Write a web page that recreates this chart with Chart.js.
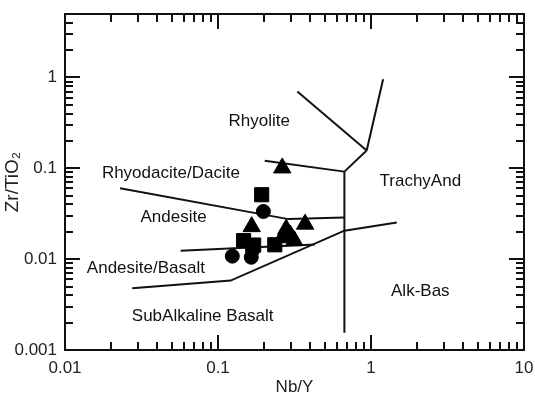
<!DOCTYPE html>
<html><head><meta charset="utf-8">
<script src="https://cdn.jsdelivr.net/npm/chart.js@4.4.0/dist/chart.umd.min.js"></script>
<style>html,body{margin:0;padding:0;background:#fff}#wrap{width:535px;height:395px;position:relative}</style>
</head><body><div id="wrap"><canvas id="c"></canvas></div>
<script>
// ---- axis ticks ----
const xTicks = [0.01, 0.1, 1, 10];
const xTickLabels = ['0.01', '0.1', '1', '10'];
const yTicks = [0.001, 0.01, 0.1, 1];
const yTickLabels = ['0.001', '0.01', '0.1', '1'];
const xMin = 0.01, xMax = 10, yMin = 0.001, yMax = 5;

// ---- samples ----
const squaresX = [0.193, 0.147, 0.171, 0.235];
const squaresY = [0.0512, 0.0160, 0.0143, 0.0144];
const circlesX = [0.198, 0.124, 0.165, 0.168];
const circlesY = [0.0335, 0.0108, 0.0105, 0.0125];
const trianglesX = [0.263, 0.166, 0.371, 0.279, 0.297, 0.315, 0.263];
const trianglesY = [0.101, 0.0228, 0.0243, 0.0214, 0.0184, 0.0160, 0.0172];

// ---- field boundaries ----
const comenditeX = [0.33, 0.937];      const comenditeY = [0.70, 0.157];
const pantelleriteX = [0.937, 1.20];   const pantelleriteY = [0.157, 0.955];
const junctionX = [0.937, 0.67];       const junctionY = [0.157, 0.092];
const verticalX = [0.67, 0.67];        const verticalY = [0.092, 0.00155];
const rhyoliteX = [0.202, 0.67];       const rhyoliteY = [0.121, 0.092];
const rhyodaciteX = [0.0229, 0.288, 0.67]; const rhyodaciteY = [0.0605, 0.0276, 0.0288];
const andBasX = [0.057, 0.43];         const andBasY = [0.0124, 0.0145];
const subAlkX = [0.0275, 0.121, 0.67, 1.475]; const subAlkY = [0.00477, 0.00581, 0.0206, 0.0254];

// ---- field names ----
const fieldNames = ['Rhyolite', 'Rhyodacite/Dacite', 'Andesite', 'Andesite/Basalt', 'SubAlkaline Basalt', 'TrachyAnd', 'Alk-Bas'];
const fieldX = [0.186, 0.0492, 0.0512, 0.0338, 0.0794, 2.10, 2.10];
const fieldY = [0.327, 0.0885, 0.0291, 0.00787, 0.00233, 0.0716, 0.00443];

const pts = (xs, ys) => xs.map((x, i) => ({x: x, y: ys[i]}));
const lineDs = (xs, ys) => ({type: 'line', data: pts(xs, ys), borderColor: '#111', borderWidth: 2,
  pointRadius: 0, fill: false, showLine: true, tension: 0});
const markDs = (xs, ys, style, r) => ({type: 'scatter', data: pts(xs, ys), pointStyle: style,
  pointRadius: r, backgroundColor: '#000', borderColor: '#000', borderWidth: 1, showLine: false});

const FONT = '"Liberation Sans", Arial, Helvetica, sans-serif';

const framePlugin = {
  id: 'frame',
  afterDatasetsDraw(chart) {
    const ctx = chart.ctx, a = chart.chartArea;
    const xs = chart.scales.x, ys = chart.scales.y;
    ctx.save();
    // field names
    ctx.fillStyle = '#111';
    ctx.font = '17px ' + FONT;
    ctx.textAlign = 'center';
    ctx.textBaseline = 'middle';
    fieldNames.forEach((t, i) => ctx.fillText(t, xs.getPixelForValue(fieldX[i]), ys.getPixelForValue(fieldY[i])));
    // ticks
    ctx.strokeStyle = '#111';
    ctx.lineWidth = 2;
    ctx.beginPath();
    for (let e = -2; e <= 0; e++) {
      for (let m = 1; m <= 9; m++) {
        const v = m * Math.pow(10, e);
        if (v <= xMin * 1.0001 && m === 1) continue;
        const px = Math.round(xs.getPixelForValue(v));
        const L = (m === 1) ? 15 : 8;
        ctx.moveTo(px, a.bottom); ctx.lineTo(px, a.bottom - L);
        ctx.moveTo(px, a.top); ctx.lineTo(px, a.top + L);
      }
    }
    for (let e = -3; e <= 0; e++) {
      for (let m = 1; m <= 9; m++) {
        const v = m * Math.pow(10, e);
        if (v >= yMax * 0.999) break;
        if (v <= yMin * 1.0001) continue;
        const py = Math.round(ys.getPixelForValue(v));
        const L = (m === 1) ? 15 : 8;
        ctx.moveTo(a.left, py); ctx.lineTo(a.left + L, py);
        ctx.moveTo(a.right, py); ctx.lineTo(a.right - L, py);
      }
    }
    ctx.stroke();
    ctx.strokeRect(a.left, a.top, a.right - a.left, a.bottom - a.top);
    ctx.restore();
  }
};

new Chart(document.getElementById('c'), {
  type: 'scatter',
  data: {
    datasets: [
      markDs(squaresX, squaresY, 'rect', 10),
      markDs(circlesX, circlesY, 'circle', 7),
      markDs(trianglesX, trianglesY, 'triangle', 10),
      lineDs(comenditeX, comenditeY),
      lineDs(pantelleriteX, pantelleriteY),
      lineDs(junctionX, junctionY),
      lineDs(verticalX, verticalY),
      lineDs(rhyoliteX, rhyoliteY),
      lineDs(rhyodaciteX, rhyodaciteY),
      lineDs(andBasX, andBasY),
      lineDs(subAlkX, subAlkY)
    ]
  },
  options: {
    responsive: true,
    maintainAspectRatio: false,
    animation: false,
    layout: {padding: {left: 0, right: 8, top: 14, bottom: 0}},
    plugins: {legend: {display: false}, tooltip: {enabled: false}},
    scales: {
      x: {
        type: 'logarithmic', min: xMin, max: xMax,
        grid: {display: false, drawTicks: false},
        border: {display: false},
        afterBuildTicks: s => { s.ticks = xTicks.map(v => ({value: v})); },
        afterFit: s => { s.height = 45; s.paddingLeft = 0; s.paddingRight = 0; },
        ticks: {autoSkip: false, maxRotation: 0, padding: 8, color: '#222',
          font: {family: FONT, size: 17},
          callback: (v, i) => xTickLabels[i]},
        title: {display: true, text: 'Nb/Y', color: '#222', padding: {top: 0, bottom: -3},
          font: {family: FONT, size: 17}}
      },
      y: {
        type: 'logarithmic', min: yMin, max: yMax,
        grid: {display: false, drawTicks: false},
        border: {display: false},
        afterBuildTicks: s => { s.ticks = yTicks.map(v => ({value: v})); },
        afterFit: s => { s.width = 65; s.paddingTop = 0; s.paddingBottom = 0; },
        ticks: {autoSkip: false, padding: 8, color: '#222',
          font: {family: FONT, size: 17},
          callback: (v, i) => yTickLabels[i]},
        title: {display: true, text: 'Zr/TiO\u2082', color: '#222', padding: {top: 1, bottom: 0},
          font: {family: FONT, size: 19}}
      }
    }
  },
  plugins: [framePlugin]
});
</script></body></html>
